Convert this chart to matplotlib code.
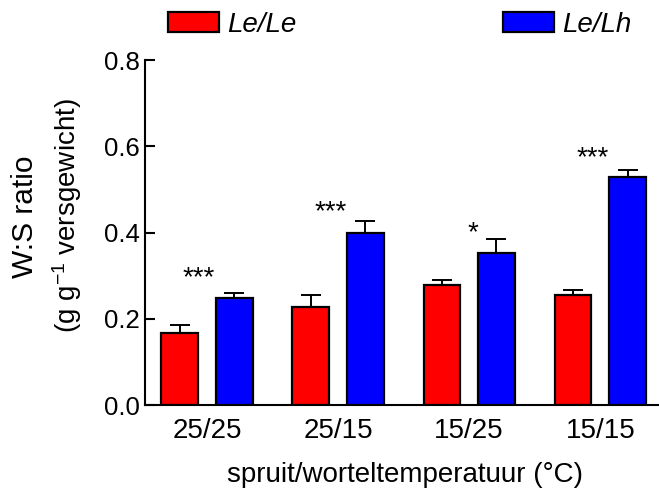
import numpy as np
import matplotlib
matplotlib.use('Agg')
import matplotlib.pyplot as plt

plt.rcParams['font.family'] = ['Liberation Sans', 'DejaVu Sans']
plt.rcParams['mathtext.fontset'] = 'custom'
plt.rcParams['mathtext.rm'] = 'Liberation Sans'
plt.rcParams['mathtext.it'] = 'Liberation Sans:italic'

# data
groups = ["25/25", "25/15", "15/25", "15/15"]
le_le = [0.168, 0.227, 0.278, 0.254]
le_le_err = [0.018, 0.029, 0.012, 0.012]
le_lh = [0.249, 0.400, 0.353, 0.529]
le_lh_err = [0.011, 0.027, 0.032, 0.016]
stars = ["***", "***", "*", "***"]
star_y = [0.295, 0.446, 0.398, 0.572]

px = 1 / 100
fig = plt.figure(figsize=(659 * px, 488 * px), dpi=100)
ax = fig.add_axes([0.220, 0.170, 0.779, 0.707])

x = np.arange(len(groups))
w = 0.28
off = 0.208
kw = dict(width=w, edgecolor='black', linewidth=1.6, zorder=2)
ax.bar(x - off, le_le, color='#ff0000', label='Le/Le', **kw)
ax.bar(x + off, le_lh, color='#0000ff', label='Le/Lh', **kw)
ekw = dict(fmt='none', ecolor='black', elinewidth=1.4, capsize=7, capthick=1.4, zorder=1)
ax.errorbar(x - off, le_le, yerr=[np.zeros(4), le_le_err], **ekw)
ax.errorbar(x + off, le_lh, yerr=[np.zeros(4), le_lh_err], **ekw)

for i, s in enumerate(stars):
    dx = 0.03 if s == "*" else -0.06
    ax.text(i + dx, star_y[i], s, ha='center', va='center', fontsize=20)

ax.set_xlim(-0.473, 3.443)
ax.set_ylim(0, 0.8)
ax.set_yticks([0.0, 0.2, 0.4, 0.6, 0.8])
ax.set_yticklabels(['0.0', '0.2', '0.4', '0.6', '0.8'])
ax.set_xticks(x)
ax.set_xticklabels(groups)
ax.tick_params(axis='y', direction='in', length=7, width=1.5, labelsize=18.5, pad=4)
ax.tick_params(axis='x', length=0, labelsize=20, pad=9)
for sp in ['top', 'right']:
    ax.spines[sp].set_visible(False)
for sp in ['left', 'bottom']:
    ax.spines[sp].set_linewidth(1.5)

fig.text(0.614, 6 / 488, 'spruit/worteltemperatuur (°C)', ha='center', va='baseline', fontsize=20)
fig.text(25 / 659, 1 - 217 / 488, 'W:S ratio', rotation=90, ha='center', va='center', fontsize=21.5)
fig.text(67 / 659, 1 - 216 / 488, '(g g$^{-1}$ versgewicht)', rotation=90, ha='center', va='center', fontsize=20)

leg = fig.legend(loc='center left', bbox_to_anchor=(168 / 659, 1 - 25 / 488), ncol=2,
                 frameon=False, prop={'style': 'italic', 'size': 20},
                 handlelength=1.83, handleheight=0.72, handletextpad=0.29,
                 columnspacing=7.45, borderpad=0, borderaxespad=0)

fig.savefig('out.png', dpi=100)
